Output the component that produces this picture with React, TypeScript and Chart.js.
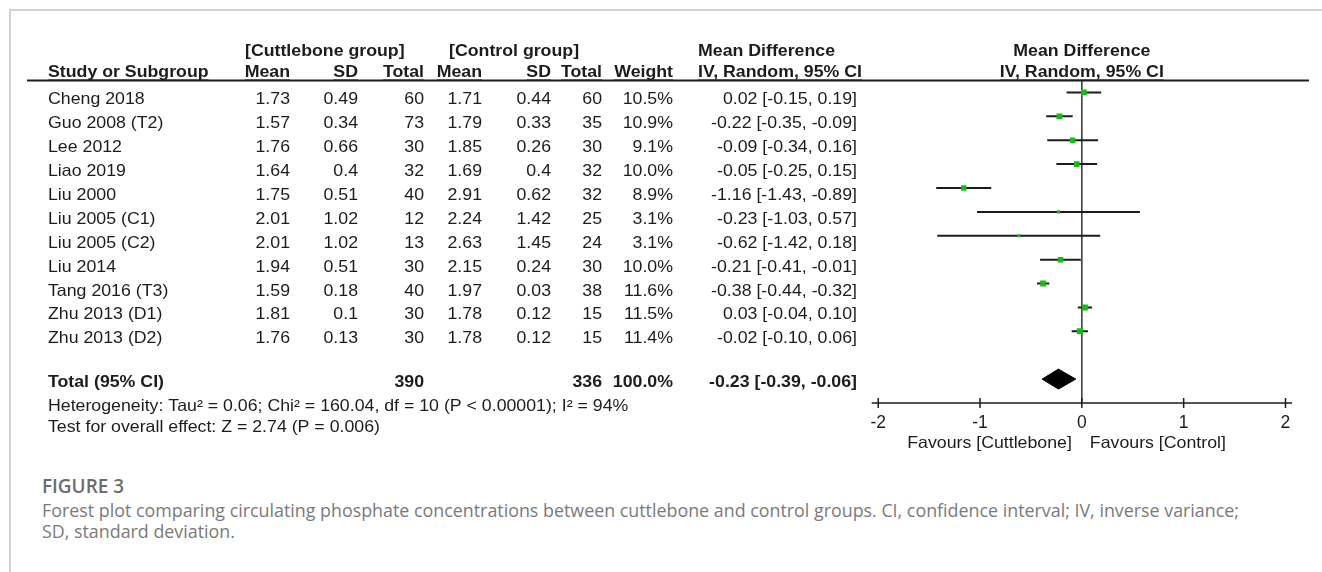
import React, { useEffect, useLayoutEffect, useRef } from "react";
import { Chart, registerables } from "chart.js";

Chart.register(...registerables);

// ---- study data ----
const studies = [
  "Cheng 2018",
  "Guo 2008 (T2)",
  "Lee 2012",
  "Liao 2019",
  "Liu 2000",
  "Liu 2005 (C1)",
  "Liu 2005 (C2)",
  "Liu 2014",
  "Tang 2016 (T3)",
  "Zhu 2013 (D1)",
  "Zhu 2013 (D2)",
];
const cuttleMean = ["1.73", "1.57", "1.76", "1.64", "1.75", "2.01", "2.01", "1.94", "1.59", "1.81", "1.76"];
const cuttleSD = ["0.49", "0.34", "0.66", "0.4", "0.51", "1.02", "1.02", "0.51", "0.18", "0.1", "0.13"];
const cuttleTotal = [60, 73, 30, 32, 40, 12, 13, 30, 40, 30, 30];
const controlMean = ["1.71", "1.79", "1.85", "1.69", "2.91", "2.24", "2.63", "2.15", "1.97", "1.78", "1.78"];
const controlSD = ["0.44", "0.33", "0.26", "0.4", "0.62", "1.42", "1.45", "0.24", "0.03", "0.12", "0.12"];
const controlTotal = [60, 35, 30, 32, 32, 25, 24, 30, 38, 15, 15];
const weights = [10.5, 10.9, 9.1, 10.0, 8.9, 3.1, 3.1, 10.0, 11.6, 11.5, 11.4];
const meanDiff = [0.02, -0.22, -0.09, -0.05, -1.16, -0.23, -0.62, -0.21, -0.38, 0.03, -0.02];
const ciLow = [-0.15, -0.35, -0.34, -0.25, -1.43, -1.03, -1.42, -0.41, -0.44, -0.04, -0.1];
const ciHigh = [0.19, -0.09, 0.16, 0.15, -0.89, 0.57, 0.18, -0.01, -0.32, 0.1, 0.06];

// pooled (random effects) result
const pooledMD = -0.23;
const pooledLow = -0.39;
const pooledHigh = -0.06;
const pooledCuttleTotal = 390;
const pooledControlTotal = 336;
const pooledWeight = 100.0;

const heterogeneityText =
  "Heterogeneity: Tau\u00b2 = 0.06; Chi\u00b2 = 160.04, df = 10 (P < 0.00001); I\u00b2 = 94%";
const overallText = "Test for overall effect: Z = 2.74 (P = 0.006)";
const favoursLeft = "Favours [Cuttlebone]";
const favoursRight = "Favours [Control]";
const axisTicks = [-2, -1, 0, 1, 2];

const figureLabel = "FIGURE 3";
const captionLine1 =
  "Forest plot comparing circulating phosphate concentrations between cuttlebone and control groups. CI, confidence interval; IV, inverse variance;";
const captionLine2 = "SD, standard deviation.";

// ---- layout ----
const W = 1322;
const H = 470;
const PLOT_LEFT = 871.7;
const PLOT_RIGHT = 1292;
const PLOT_TOP = 80.5;
const PLOT_BOTTOM = 403;
const AXIS_H = 30;
const X_MIN = axisTicks[0] - 0.064;
const X_MAX = axisTicks[axisTicks.length - 1] + 0.064;
const Y_MIN = -0.5;
const Y_MAX = 13;
const TOTAL_ROW = 12;

const FONT = '"Liberation Sans", Arial, Helvetica, sans-serif';
const FONT_PX = 16.5;
const STRETCH = 1.075;
const INK = "#1c1c1c";
const GREEN = "#12c012";

const COL = {
  study: 48,
  cMean: 290,
  cSD: 358,
  cTotal: 424,
  kMean: 482,
  kSD: 551,
  kTotal: 602,
  weight: 673,
  ci: 857,
  ciHead: 698,
  cGroup: 245,
  kGroup: 449,
  ruleL: 27,
  ruleR: 1309,
};

const fmt2 = (v: number) => v.toFixed(2);
const ciLabel = (m: number, lo: number, hi: number) => `${fmt2(m)} [${fmt2(lo)}, ${fmt2(hi)}]`;

function drawText(
  ctx: CanvasRenderingContext2D,
  s: string,
  x: number,
  y: number,
  align: CanvasTextAlign,
  bold = false,
  underline = false
) {
  ctx.save();
  ctx.font = `${bold ? "bold " : ""}${FONT_PX}px ${FONT}`;
  ctx.textAlign = align;
  ctx.textBaseline = "middle";
  ctx.translate(x, y);
  ctx.scale(STRETCH, 1);
  ctx.fillText(s, 0, 0);
  if (underline) {
    const w = ctx.measureText(s).width;
    const x0 = align === "right" ? -w : align === "center" ? -w / 2 : 0;
    ctx.fillRect(x0, 7.5, w, 1.2);
  }
  ctx.restore();
}

function stroke(ctx: CanvasRenderingContext2D, x1: number, y1: number, x2: number, y2: number) {
  ctx.beginPath();
  ctx.moveTo(x1, y1);
  ctx.lineTo(x2, y2);
  ctx.stroke();
}

const forestTable = {
  id: "forestTable",
  afterDraw(chart: any) {
    const { ctx, chartArea, scales } = chart;
    const xs = scales.x;
    const ys = scales.y;
    const rowY = (v: number) => ys.getPixelForValue(v);
    const zeroX = xs.getPixelForValue(0);

    ctx.save();
    ctx.fillStyle = INK;
    ctx.strokeStyle = INK;

    // header rule
    ctx.lineWidth = 1.8;
    stroke(ctx, COL.ruleL, chartArea.top, COL.ruleR, chartArea.top);

    // horizontal axis with ticks crossing it
    ctx.lineWidth = 1.5;
    stroke(ctx, chartArea.left, chartArea.bottom, chartArea.right, chartArea.bottom);
    xs.ticks.forEach((t: any) => {
      const px = xs.getPixelForValue(t.value);
      stroke(ctx, px, chartArea.bottom - 5, px, chartArea.bottom + 5);
    });

    // column headers
    const h1 = chartArea.top - 29;
    const h2 = chartArea.top - 8.5;
    drawText(ctx, "[Cuttlebone group]", COL.cGroup, h1, "left", true);
    drawText(ctx, "[Control group]", COL.kGroup, h1, "left", true);
    drawText(ctx, "Mean Difference", COL.ciHead, h1, "left", true);
    drawText(ctx, "Mean Difference", zeroX, h1, "center", true);

    drawText(ctx, "Study or Subgroup", COL.study, h2, "left", true, true);
    drawText(ctx, "Mean", COL.cMean, h2, "right", true, true);
    drawText(ctx, "SD", COL.cSD, h2, "right", true, true);
    drawText(ctx, "Total", COL.cTotal, h2, "right", true, true);
    drawText(ctx, "Mean", COL.kMean, h2, "right", true, true);
    drawText(ctx, "SD", COL.kSD, h2, "right", true, true);
    drawText(ctx, "Total", COL.kTotal, h2, "right", true, true);
    drawText(ctx, "Weight", COL.weight, h2, "right", true, true);
    drawText(ctx, "IV, Random, 95% CI", COL.ciHead, h2, "left", true, true);
    drawText(ctx, "IV, Random, 95% CI", zeroX, h2, "center", true, true);

    // study rows
    studies.forEach((name, i) => {
      const y = rowY(i) + 7.5;
      drawText(ctx, name, COL.study, y, "left");
      drawText(ctx, cuttleMean[i], COL.cMean, y, "right");
      drawText(ctx, cuttleSD[i], COL.cSD, y, "right");
      drawText(ctx, String(cuttleTotal[i]), COL.cTotal, y, "right");
      drawText(ctx, controlMean[i], COL.kMean, y, "right");
      drawText(ctx, controlSD[i], COL.kSD, y, "right");
      drawText(ctx, String(controlTotal[i]), COL.kTotal, y, "right");
      drawText(ctx, `${weights[i].toFixed(1)}%`, COL.weight, y, "right");
      drawText(ctx, ciLabel(meanDiff[i], ciLow[i], ciHigh[i]), COL.ci, y, "right");
    });

    // pooled row
    const ty = rowY(TOTAL_ROW) + 3.5;
    drawText(ctx, "Total (95% CI)", COL.study, ty, "left", true);
    drawText(ctx, String(pooledCuttleTotal), COL.cTotal, ty, "right", true);
    drawText(ctx, String(pooledControlTotal), COL.kTotal, ty, "right", true);
    drawText(ctx, `${pooledWeight.toFixed(1)}%`, COL.weight, ty, "right", true);
    drawText(ctx, ciLabel(pooledMD, pooledLow, pooledHigh), COL.ci, ty, "right", true);

    drawText(ctx, heterogeneityText, COL.study, rowY(TOTAL_ROW + 1) + 3, "left");
    drawText(ctx, overallText, COL.study, rowY(TOTAL_ROW + 2) + 1, "left");

    // favours labels under the axis
    const fy = chartArea.bottom + 40;
    drawText(ctx, favoursLeft, zeroX - 10, fy, "right");
    drawText(ctx, favoursRight, zeroX + 8, fy, "left");

    ctx.restore();
  },
};

function ForestPlot() {
  const canvasRef = useRef<HTMLCanvasElement | null>(null);

  useEffect(() => {
    const canvas = canvasRef.current;
    if (!canvas) return;

    const squareSide = weights.map((w) => 1.76 * Math.sqrt(w));
    const halfH = 10 / ((PLOT_BOTTOM - PLOT_TOP) / (Y_MAX - Y_MIN));

    const datasets: any[] = [
      {
        label: "Study estimate",
        data: meanDiff.map((m, i) => ({ x: m, y: i })),
        pointStyle: "rect",
        pointRadius: squareSide.map((s) => s / Math.SQRT2),
        pointBackgroundColor: GREEN,
        pointBorderWidth: 0,
        showLine: false,
      },
      {
        label: "Pooled estimate",
        data: [
          { x: pooledLow, y: TOTAL_ROW },
          { x: pooledMD, y: TOTAL_ROW - halfH },
          { x: pooledHigh, y: TOTAL_ROW },
          { x: pooledMD, y: TOTAL_ROW + halfH },
          { x: pooledLow, y: TOTAL_ROW },
        ],
        showLine: true,
        fill: "shape",
        backgroundColor: "#000000",
        borderColor: "#000000",
        borderWidth: 1,
        pointRadius: 0,
        tension: 0,
      },
      ...studies.map((name, i) => ({
        label: name,
        data: [
          { x: ciLow[i], y: i },
          { x: ciHigh[i], y: i },
        ],
        showLine: true,
        borderColor: INK,
        borderWidth: 2,
        pointRadius: 0,
        fill: false,
      })),
      {
        label: "No effect",
        data: [
          { x: 0, y: Y_MIN },
          { x: 0, y: Y_MAX },
        ],
        showLine: true,
        borderColor: "#333333",
        borderWidth: 1.5,
        pointRadius: 0,
        fill: false,
      },
    ];

    const chart = new Chart(canvas, {
      type: "scatter",
      data: { datasets },
      options: {
        animation: false,
        responsive: false,
        devicePixelRatio: 1,
        events: [],
        layout: {
          padding: {
            left: PLOT_LEFT,
            right: W - PLOT_RIGHT,
            top: PLOT_TOP,
            bottom: H - PLOT_BOTTOM - AXIS_H,
          },
        },
        plugins: {
          legend: { display: false },
          tooltip: { enabled: false },
        },
        scales: {
          x: {
            type: "linear",
            min: X_MIN,
            max: X_MAX,
            grid: { display: false, drawTicks: false },
            border: { display: false },
            ticks: {
              stepSize: 1,
              includeBounds: false,
              autoSkip: false,
              maxRotation: 0,
              padding: 10,
              color: INK,
              font: { family: FONT, size: 17.5 },
              callback: (v: any) => String(v),
            },
            afterFit: (s: any) => {
              s.height = AXIS_H;
            },
          },
          y: {
            type: "linear",
            display: false,
            reverse: true,
            min: Y_MIN,
            max: Y_MAX,
          },
        },
      },
      plugins: [forestTable],
    } as any);

    return () => chart.destroy();
  }, []);

  return (
    <canvas
      ref={canvasRef}
      width={W}
      height={H}
      style={{ position: "absolute", left: 0, top: 0, width: W, height: H, display: "block" }}
    />
  );
}

function Caption() {
  const figRef = useRef<HTMLSpanElement | null>(null);
  const l1Ref = useRef<HTMLSpanElement | null>(null);
  const l2Ref = useRef<HTMLSpanElement | null>(null);

  useLayoutEffect(() => {
    const fit = (el: HTMLSpanElement | null, target: number) => {
      if (!el) return 1;
      el.style.transform = "none";
      const w = el.getBoundingClientRect().width;
      const k = w > 0 ? target / w : 1;
      el.style.transform = `scaleX(${k})`;
      return k;
    };
    fit(figRef.current, 82);
    const k = fit(l1Ref.current, 1197);
    if (l2Ref.current) l2Ref.current.style.transform = `scaleX(${k})`;
  }, []);

  const base: React.CSSProperties = {
    position: "absolute",
    left: 42,
    whiteSpace: "nowrap",
    transformOrigin: "left center",
    fontFamily: '"Open Sans", "Noto Sans", sans-serif',
    lineHeight: "22px",
  };

  return (
    <>
      <span ref={figRef} style={{ ...base, top: 475, fontSize: 19, fontWeight: 600, color: "#6c6c6c" }}>
        {figureLabel}
      </span>
      <span ref={l1Ref} style={{ ...base, top: 499, fontSize: 18, fontWeight: 400, color: "#7a7a7a" }}>
        {captionLine1}
      </span>
      <span ref={l2Ref} style={{ ...base, top: 520, fontSize: 18, fontWeight: 400, color: "#7a7a7a" }}>
        {captionLine2}
      </span>
    </>
  );
}

export default function App() {
  return (
    <div
      style={{
        position: "absolute",
        left: 0,
        top: 0,
        width: W,
        height: 572,
        overflow: "hidden",
        background: "#ffffff",
      }}
    >
      <div
        style={{
          position: "absolute",
          left: 9,
          top: 9,
          right: 0,
          bottom: 0,
          borderTop: "2px solid #d2d2d2",
          borderLeft: "2px solid #d2d2d2",
        }}
      />
      <ForestPlot />
      <Caption />
    </div>
  );
}
